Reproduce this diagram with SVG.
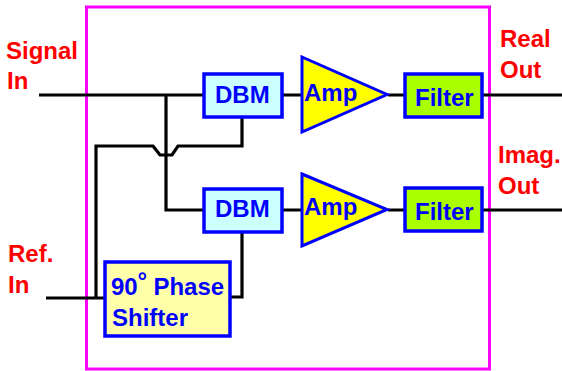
<svg xmlns="http://www.w3.org/2000/svg" width="562" height="371" viewBox="0 0 562 371">
<style>
text{font-family:"Liberation Sans",Arial,sans-serif;font-size:24px;font-weight:bold}
.r{fill:#ff0000}
.b{fill:#0000ff}
.box{stroke:#0000ff;stroke-width:3.5}
.tri{stroke:#0000ff;stroke-width:3}
.w{fill:none;stroke:#000;stroke-width:3.2}
</style>
<rect width="562" height="371" fill="#fff"/>
<rect id="frame" x="86.5" y="7" width="403" height="362" fill="none" stroke="#ff00ff" stroke-width="3"/>
<g id="connectors" class="w">
<path d="M39 95H203"/>
<path d="M166 95V210H203"/>
<path d="M46 298H104"/>
<path d="M96 298V146H153L160 155H172L178 146H242V117"/>
<path d="M231 297H242V232"/>
<path d="M283 95H302M388 95H405M482 95H562"/>
<path d="M283 210H302M388 210H405M482 210H562"/>
</g>
<g id="dbm1"><rect class="box" x="204" y="74" width="78" height="43" fill="#ccffff"/><text class="b" x="215" y="103">DBM</text></g>
<g id="dbm2"><rect class="box" x="204" y="189" width="78" height="43" fill="#ccffff"/><text class="b" x="215" y="217">DBM</text></g>
<g id="amp1"><polygon class="tri" points="302,57 387,94.5 302,132" fill="#ffff00"/><text class="b" x="304" y="101">Amp</text></g>
<g id="amp2"><polygon class="tri" points="302,174 387,209.5 302,246" fill="#ffff00"/><text class="b" x="304" y="215">Amp</text></g>
<g id="filter1"><rect class="box" x="405" y="74" width="77" height="43" fill="#aaff00"/><text class="b" x="415" y="106">Filter</text></g>
<g id="filter2"><rect class="box" x="405" y="188" width="77" height="43" fill="#aaff00"/><text class="b" x="415" y="220">Filter</text></g>
<g id="shifter"><rect class="box" x="105" y="262" width="125" height="74" fill="#ffffaa"/><text class="b" x="111" y="295" textLength="113" lengthAdjust="spacing">90<tspan font-size="24" dy="-6">°</tspan><tspan dy="6"> Phase</tspan></text><text class="b" x="112" y="326">Shifter</text></g>
<g id="label-signal"><text class="r" x="6" y="59">Signal</text><text class="r" x="7" y="89">In</text></g>
<g id="label-ref"><text class="r" x="8" y="262">Ref.</text><text class="r" x="8" y="293">In</text></g>
<g id="label-real"><text class="r" x="500" y="47">Real</text><text class="r" x="500" y="78">Out</text></g>
<g id="label-imag"><text class="r" x="498" y="163">Imag.</text><text class="r" x="498" y="194">Out</text></g>
</svg>
